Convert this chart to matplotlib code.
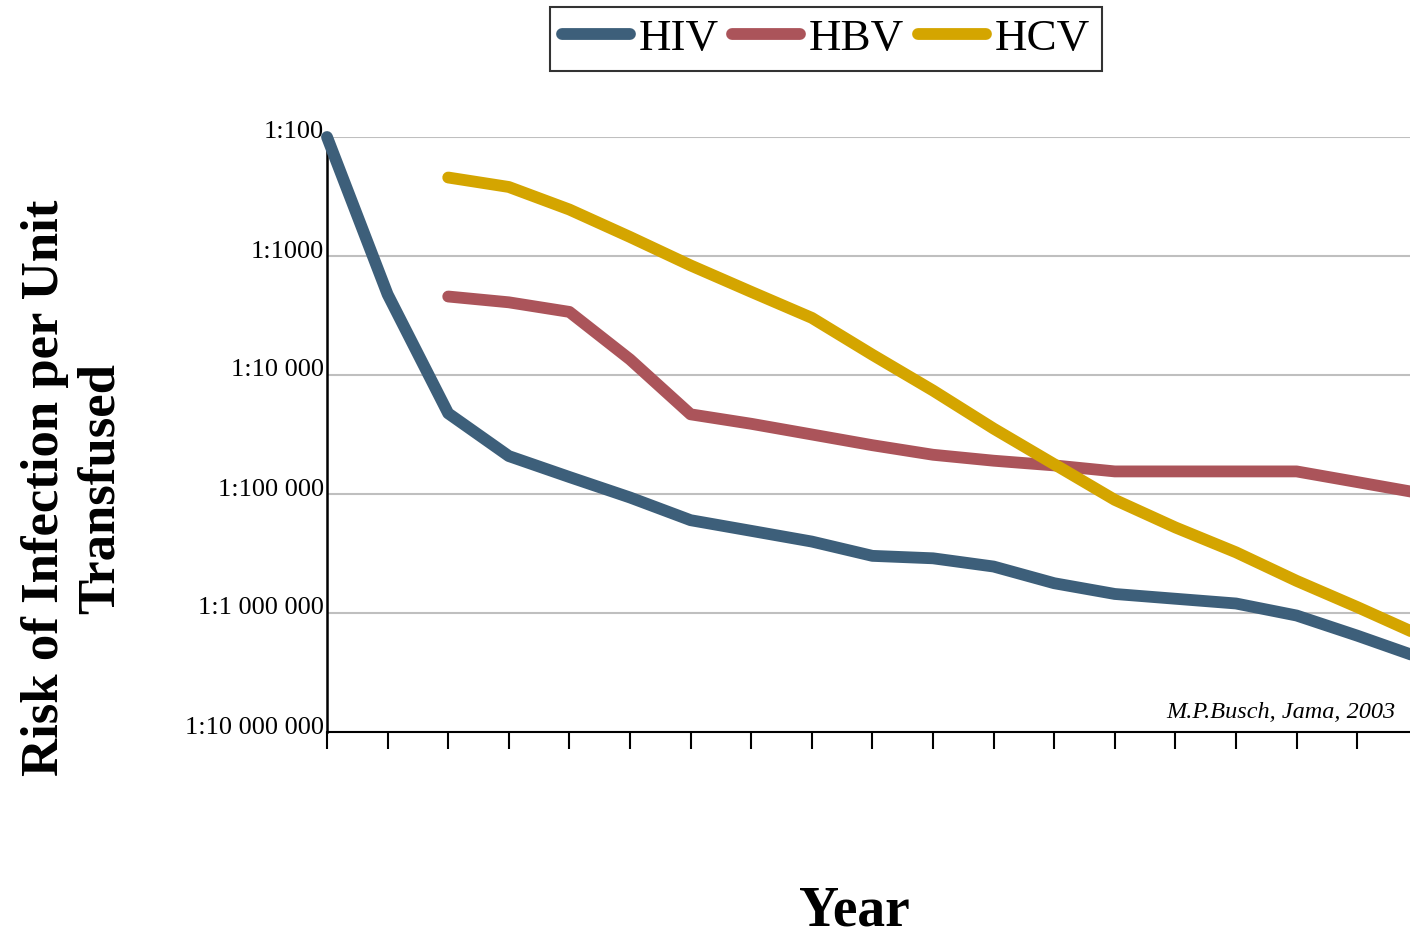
import matplotlib
matplotlib.use("Agg")
from matplotlib import pyplot as plt
from matplotlib import transforms

plt.rcParams['font.family'] = ['Liberation Serif', 'DejaVu Serif']

# risk per unit transfused, stored as the denominator N of 1:N
years = list(range(19))          # tick positions (no year labels in the source)
hiv = [100, 2100, 21000, 48000, 72000, 107000, 166000, 204000, 251000, 331000,
       347000, 407000, 562000, 692000, 759000, 832000, 1050000, 1550000, 2340000]
hbv = [2190, 2450, 2950, 7400, 21400, 25700, 31600, 38900, 46800, 52500,
       57500, 64600, 64600, 64600, 64600, 79400, 97700]
hcv = [219, 263, 407, 692, 1200, 2000, 3310, 6760, 13500, 28200, 56200,
       112000, 191000, 309000, 537000, 891000, 1510000]

y_ticks = [100, 1000, 10000, 100000, 1000000, 10000000]
y_labels = ["1:100", "1:1000", "1:10 000", "1:100 000", "1:1 000 000", "1:10 000 000"]

colors = {"HIV": "#3d5f7a", "HBV": "#ab545a", "HCV": "#d4a500"}

fig = plt.figure(figsize=(14.1, 9.39), dpi=100)
ax = fig.add_axes([327 / 1410, 1 - 732 / 939, 1083 / 1410, 595 / 939])

lw = 8.5
ax.plot(years, hiv, color=colors["HIV"], lw=lw, label="HIV", solid_capstyle="round", clip_on=False, zorder=3)
ax.plot(years[2:], hbv, color=colors["HBV"], lw=lw, label="HBV", solid_capstyle="round", clip_on=False, zorder=3)
ax.plot(years[2:], hcv, color=colors["HCV"], lw=lw, label="HCV", solid_capstyle="round", clip_on=False, zorder=3)

ax.set_yscale("log")
ax.set_yticks(y_ticks)
ax.set_yticklabels(y_labels, fontsize=19)
ax.yaxis.set_minor_locator(matplotlib.ticker.NullLocator())
ax.set_ylim(1e7, 1e2)
ax.tick_params(axis="y", length=0, pad=2)
offset = transforms.ScaledTranslation(0, 7 / 100, fig.dpi_scale_trans)
for lab in ax.get_yticklabels():
    lab.set_transform(lab.get_transform() + offset)

ax.set_xticks(years[:18])
ax.set_xticklabels([])
ax.set_xlim(0, (1410 - 327) / 60.6)
ax.tick_params(axis="x", length=12, width=1.5, direction="out", color="black")

ax.grid(axis="y", color="#bfbfbf", lw=1.5)
ax.set_axisbelow(True)
for s in ["top", "right"]:
    ax.spines[s].set_visible(False)
ax.spines["left"].set_linewidth(1.8)
ax.spines["bottom"].set_linewidth(1.5)

leg = fig.legend(loc="center", bbox_to_anchor=(826 / 1410, 1 - 39 / 939), ncol=3,
                 fontsize=32.5, handlelength=1.5, handletextpad=0.2, columnspacing=0.3,
                 borderpad=0.27, frameon=True, fancybox=False, borderaxespad=0)
leg.get_frame().set_edgecolor("black")
leg.get_frame().set_linewidth(1.5)

fig.text(73 / 1410, 1 - 488 / 939, "Risk of Infection per Unit\nTransfused", rotation=90,
         ha="center", va="center", fontsize=38, fontweight="bold", linespacing=1.2)
fig.text(854 / 1410, 1 - 911 / 939, "Year", ha="center", va="center",
         fontsize=40, fontweight="bold")
fig.text(1395 / 1410, 1 - 713 / 939, "M.P.Busch, Jama, 2003", ha="right", va="center",
         fontsize=17.5, style="italic")

fig.savefig("out.png", dpi=100)
